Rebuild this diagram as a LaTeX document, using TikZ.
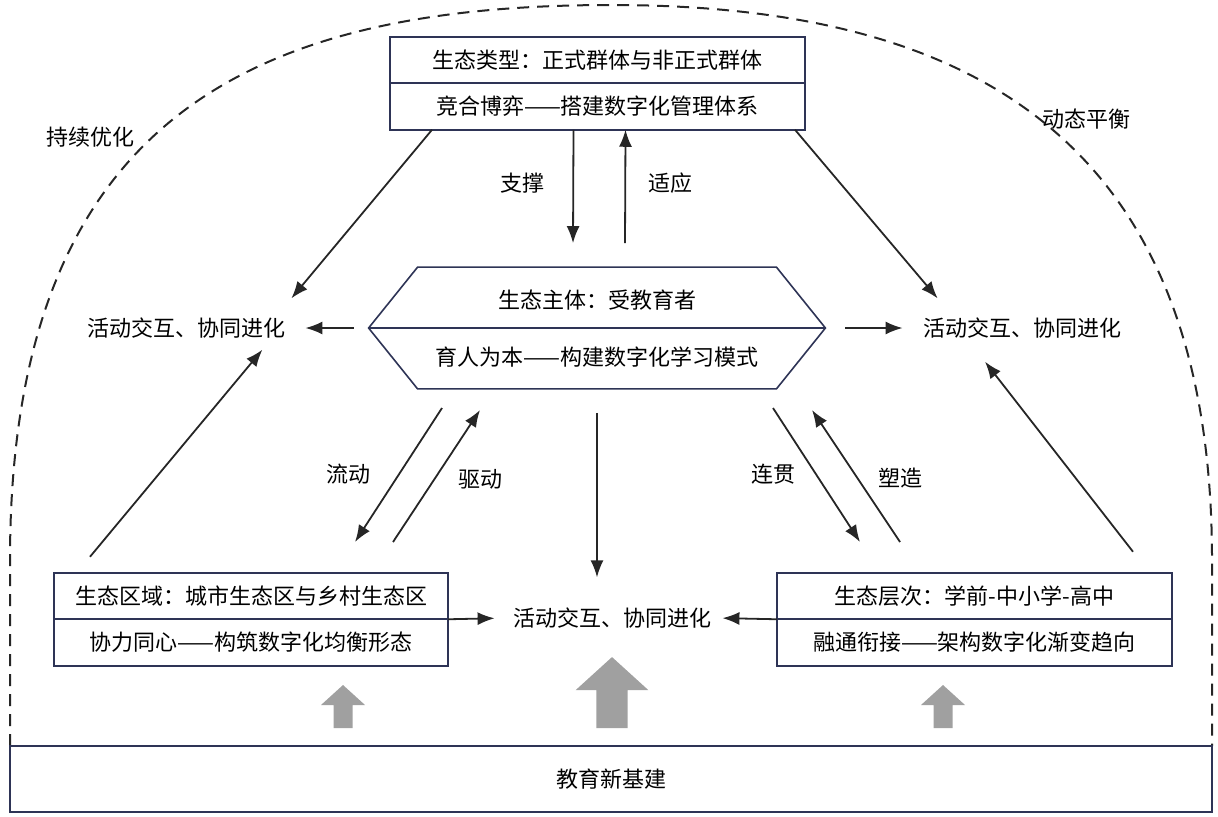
\documentclass[tikz,border=0pt]{standalone}
\usepackage{fontspec}
\setmainfont{Noto Sans CJK SC}
\usepackage{xcolor}
\usetikzlibrary{positioning,arrows.meta}
\definecolor{boxline}{HTML}{2E3456}
\definecolor{blockgray}{HTML}{A0A0A0}
\tikzset{
    cn-font/.style = {font=\fontsize{11pt}{13pt}\selectfont},
    part-box/.style = {draw=boxline, cn-font, line width=0.8pt, rectangle, inner sep=0pt, outer sep=0pt, minimum height=23.25pt},
    goal-text/.style = {cn-font, inner sep=3pt},
    flow-arrow/.style = {draw=black!85, line width=0.9pt, -{Latex[length=8.5pt,width=6.5pt]}},
    hex-line/.style = {draw=boxline, line width=0.8pt, line join=miter},
    block-arrow/.style = {fill=blockgray},
    dash-arch/.style = {draw=black!85, line width=1pt, dash pattern=on 6pt off 4pt},
}

\begin{document}
\begin{tikzpicture}[x=0.5pt, y=-0.5pt]
\useasboundingbox (0,0) rectangle (1218,816);

% outer arch and base
\draw[dash-arch] (10,746) -- (10,560) .. controls (10,120) and (250,5) .. (611,5)
    .. controls (960,5) and (1212,130) .. (1212,560) -- (1212,746);
\node[part-box, minimum width=601pt, minimum height=33pt] (base) at (611,779) {教育新基建};
\node[goal-text] (tag-optimize) at (90,137) {持续优化};
\node[goal-text] (tag-balance) at (1086,119) {动态平衡};

% three ecology boxes
\node[part-box, minimum width=207.5pt] (type-top) at (597.5,60) {生态类型：正式群体与非正式群体};
\node[part-box, minimum width=207.5pt, below=0pt of type-top] (type-bot) {竞合博弈——搭建数字化管理体系};
\node[part-box, minimum width=197pt] (region-top) at (251,596) {生态区域：城市生态区与乡村生态区};
\node[part-box, minimum width=197pt, below=0pt of region-top] (region-bot) {协力同心——构筑数字化均衡形态};
\node[part-box, minimum width=197.5pt] (level-top) at (974.5,596) {生态层次：学前-中小学-高中};
\node[part-box, minimum width=197.5pt, below=0pt of level-top] (level-bot) {融通衔接——架构数字化渐变趋向};

% subject hexagon
\node[minimum width=228pt, minimum height=60.5pt, inner sep=0pt] (subject) at (597,328) {};
\draw[hex-line] (subject.west) -- ([xshift=24.5pt]subject.north west) -- ([xshift=-24.5pt]subject.north east)
    -- (subject.east) -- ([xshift=-24.5pt]subject.south east) -- ([xshift=24.5pt]subject.south west) -- cycle;
\draw[hex-line] (subject.west) -- (subject.east);
\node[goal-text] (subject-top) at (597,300) {生态主体：受教育者};
\node[goal-text] (subject-bot) at (597,357) {育人为本——构建数字化学习模式};

% goals
\node[goal-text] (goal-left) at (186,328) {活动交互、协同进化};
\node[goal-text] (goal-right) at (1022,328) {活动交互、协同进化};
\node[goal-text] (goal-bottom) at (612,618) {活动交互、协同进化};

% labels
\node[goal-text] (lbl-support) at (522,183) {支撑};
\node[goal-text] (lbl-adapt) at (670,183) {适应};
\node[goal-text] (lbl-flow) at (348,474) {流动};
\node[goal-text] (lbl-drive) at (480,479) {驱动};
\node[goal-text] (lbl-link) at (773,474) {连贯};
\node[goal-text] (lbl-shape) at (900,478) {塑造};

% free ends
\coordinate (flow-s) at (442,408);
\coordinate (flow-e) at (355,542);
\coordinate (drive-s) at (393,542);
\coordinate (drive-e) at (480,410);
\coordinate (link-s) at (773,408);
\coordinate (link-e) at (860,542);
\coordinate (shape-s) at (900,542);
\coordinate (shape-e) at (812,410);

% connectors
\draw[flow-arrow] ([xshift=21pt]type-bot.south west) -- ([yshift=6.5pt]goal-left.north east);
\draw[flow-arrow] ([xshift=-5pt]type-bot.south east) -- ([xshift=10.5pt,yshift=6.5pt]goal-right.north west);
\draw[flow-arrow] ([xshift=-12pt]type-bot.south) -- ([xshift=-12pt,yshift=12pt]subject.north);
\draw[flow-arrow] ([xshift=14pt,yshift=12pt]subject.north) -- ([xshift=14pt]type-bot.south);
\draw[flow-arrow, shorten <=7.5pt, shorten >=7pt] (subject.west) -- (goal-left.east);
\draw[flow-arrow, shorten <=10pt, shorten >=7pt] (subject.east) -- (goal-right.west);
\draw[flow-arrow, shorten <=12pt, shorten >=12pt] (subject.south) -- (subject.south |- goal-bottom.north);
\draw[flow-arrow] (flow-s) -- (flow-e);
\draw[flow-arrow] (drive-s) -- (drive-e);
\draw[flow-arrow] (link-s) -- (link-e);
\draw[flow-arrow] (shape-s) -- (shape-e);
\draw[flow-arrow] ([xshift=18pt,yshift=8pt]region-top.north west) -- ([xshift=-14.5pt,yshift=-2.5pt]goal-left.south east);
\draw[flow-arrow] ([xshift=-19.5pt,yshift=10.5pt]level-top.north east) -- ([xshift=-18.5pt,yshift=-8.5pt]goal-right.south);
\draw[flow-arrow, shorten >=6pt] (region-top.south east) -- (goal-bottom.west);
\draw[flow-arrow, shorten >=2.5pt] (level-top.south west) -- (goal-bottom.east);

% grey block arrows
\foreach \cx/\k in {343/1, 612/1.65, 943/1}
  \fill[block-arrow] (\cx-9.5*\k,728) -- (\cx+9.5*\k,728) -- (\cx+9.5*\k,728-23*\k) -- (\cx+22*\k,728-23*\k)
      -- (\cx,728-43*\k) -- (\cx-22*\k,728-23*\k) -- (\cx-9.5*\k,728-23*\k) -- cycle;
\end{tikzpicture}
\end{document}
